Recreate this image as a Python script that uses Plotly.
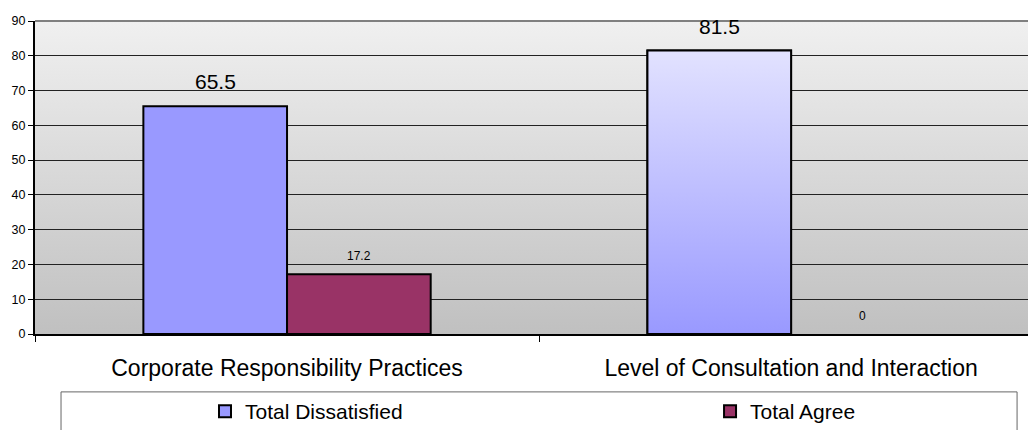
import base64
import plotly.graph_objects as go

# Survey results per topic
categories = ["Corporate Responsibility Practices", "Level of Consultation and Interaction"]
dissatisfied = [65.5, 81.5]
agree = [17.2, 0]
y_ticks = [0, 10, 20, 30, 40, 50, 60, 70, 80, 90]

FONT = "Arial, Liberation Sans, sans-serif"
BLUE = "#9999FF"
PLUM = "#993366"
BARGAP = 0.43
half = (1 - BARGAP) / 2          # width of one bar in a two-bar group
x_pos = list(range(len(categories)))

fig = go.Figure()

fig.add_trace(go.Bar(
    x=x_pos, y=dissatisfied, name="Total Dissatisfied",
    marker=dict(color=BLUE, line=dict(color="black", width=2)),
    hoverinfo="y", legend="legend",
))
fig.add_trace(go.Bar(
    x=x_pos, y=agree, name="Total Agree",
    marker=dict(color=PLUM,
                line=dict(color="black", width=[2 if a > 0 else 0 for a in agree])),
    hoverinfo="y", legend="legend2",
))

# Shaded (gradient) fill on the second "Total Dissatisfied" bar
v = dissatisfied[1]
x0, x1 = x_pos[1] - half, x_pos[1]
fig.add_trace(go.Scatter(
    x=[x0, x1, x1, x0, x0], y=[0, 0, v, v, 0],
    mode="lines", fill="toself",
    fillgradient=dict(type="vertical", start=0, stop=v,
                      colorscale=[[0, BLUE], [1, "#E2E2FF"]]),
    line=dict(color="black", width=2),
    showlegend=False, hoverinfo="skip",
))

# Value labels above the bars
annotations = []
for i in x_pos:
    annotations.append(dict(
        x=i - half / 2, y=dissatisfied[i], xref="x", yref="y",
        text=f"{dissatisfied[i]}", showarrow=False, yanchor="bottom", yshift=11,
        font=dict(family=FONT, size=21, color="black"),
    ))
    annotations.append(dict(
        x=i + half / 2, y=agree[i], xref="x", yref="y",
        text=f"{agree[i]}", showarrow=False, yanchor="bottom", yshift=9,
        font=dict(family=FONT, size=12, color="black"),
    ))

# Grey vertical gradient for the plotting area
svg = (
    '<svg xmlns="http://www.w3.org/2000/svg" width="10" height="100" preserveAspectRatio="none">'
    '<defs><linearGradient id="g" x1="0" y1="0" x2="0" y2="1">'
    '<stop offset="0" stop-color="#F0F0F0"/><stop offset="1" stop-color="#C0C0C0"/>'
    '</linearGradient></defs><rect width="10" height="100" fill="url(#g)"/></svg>'
)
bg_src = "data:image/svg+xml;base64," + base64.b64encode(svg.encode()).decode()

legend_style = dict(
    orientation="h", xanchor="left", y=-0.248, yanchor="middle",
    font=dict(family=FONT, size=21, color="black"),
    bgcolor="rgba(0,0,0,0)", borderwidth=0,
)

fig.update_layout(
    width=1028, height=430,
    margin=dict(l=35, r=0, t=21, b=96, autoexpand=False),
    paper_bgcolor="white", plot_bgcolor="rgba(0,0,0,0)",
    barmode="group", bargap=BARGAP, bargroupgap=0,
    font=dict(family=FONT, color="black"),
    images=[dict(source=bg_src, xref="paper", yref="paper", x=0, y=1,
                 sizex=1, sizey=1, sizing="stretch", layer="below")],
    annotations=annotations,
    shapes=[
        # top frame line of the plot area
        dict(type="line", xref="paper", yref="paper", x0=0, x1=1, y0=1, y1=1,
             line=dict(color="#808080", width=2)),
        # legend frame
        dict(type="rect", xref="paper", yref="paper",
             x0=0.0262, x1=0.989, y0=-0.185, y1=-0.34,
             line=dict(color="#666666", width=1), fillcolor="rgba(0,0,0,0)"),
    ],
    legend=dict(x=0.1712, **legend_style),
    legend2=dict(x=0.6798, **legend_style),
    showlegend=True,
)

fig.update_xaxes(
    range=[-0.5, 1.47],
    tickmode="array", tickvals=x_pos, ticktext=categories,
    ticks="", ticklabelstandoff=12,
    tickfont=dict(family=FONT, size=23, color="black"),
    showline=True, linecolor="black", linewidth=2,
    showgrid=False, zeroline=False,
    minor=dict(tickmode="array", tickvals=[-0.5, 0.5, 1.5], ticks="outside",
               ticklen=6, tickwidth=1, tickcolor="black", showgrid=False),
)
fig.update_yaxes(
    range=[0, 90], tickmode="array", tickvals=y_ticks,
    ticks="outside", ticklen=5, tickwidth=1, tickcolor="black",
    tickfont=dict(family=FONT, size=12.5, color="black"),
    showline=True, linecolor="black", linewidth=2,
    showgrid=True, gridcolor="#222222", gridwidth=1, zeroline=False,
)

fig.write_html("out.html")
